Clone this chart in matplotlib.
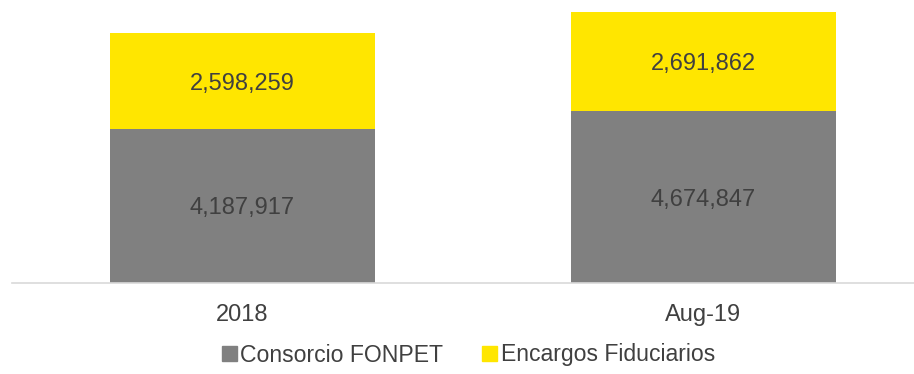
import numpy as np
import matplotlib.pyplot as plt
from matplotlib.patches import Patch

plt.rcParams['font.family'] = ['Liberation Sans', 'DejaVu Sans']

# Data
categories = ['2018', 'Aug-19']
consorcio = [4187917, 4674847]
encargos = [2598259, 2691862]

gray = '#808080'
yellow = '#FFE600'
text_color = '#404040'

fig = plt.figure(figsize=(9.14, 3.74), dpi=100)
# axes placed so the bars line up with the reference pixels
ax = fig.add_axes([12 / 914, 91 / 374, 922 / 914, 283 / 374])

x = np.arange(len(categories))
width = 0.573
ax.bar(x, consorcio, width, color=gray)
ax.bar(x, encargos, width, bottom=consorcio, color=yellow)

# value labels centred in each segment
for i in range(len(categories)):
    ax.text(x[i], consorcio[i] / 2, f'{consorcio[i]:,}', ha='center', va='center_baseline',
            fontsize=17, color=text_color)
    ax.text(x[i], consorcio[i] + encargos[i] / 2, f'{encargos[i]:,}', ha='center',
            va='center_baseline', fontsize=17, color=text_color)

ax.set_xlim(-0.5, 1.5)
ax.set_ylim(0, 7.695e6)
ax.set_xticks(x)
ax.set_xticklabels(categories, fontsize=17, color=text_color)
ax.tick_params(axis='x', length=0, pad=15)
ax.set_yticks([])
for side in ['top', 'right', 'left']:
    ax.spines[side].set_visible(False)
ax.spines['bottom'].set_color('#D9D9D9')
ax.spines['bottom'].set_linewidth(1.2)

handles = [Patch(color=gray, label='Consorcio FONPET'),
           Patch(color=yellow, label='Encargos Fiduciarios')]
fig.legend(handles=handles, loc='center', bbox_to_anchor=(468.5 / 914, 1 - 355 / 374),
           ncol=2, frameon=False, fontsize=16.6, labelcolor=text_color,
           handlelength=0.65, handleheight=0.65, handletextpad=0.15,
           columnspacing=1.7)

fig.savefig('out.png', dpi=100)
